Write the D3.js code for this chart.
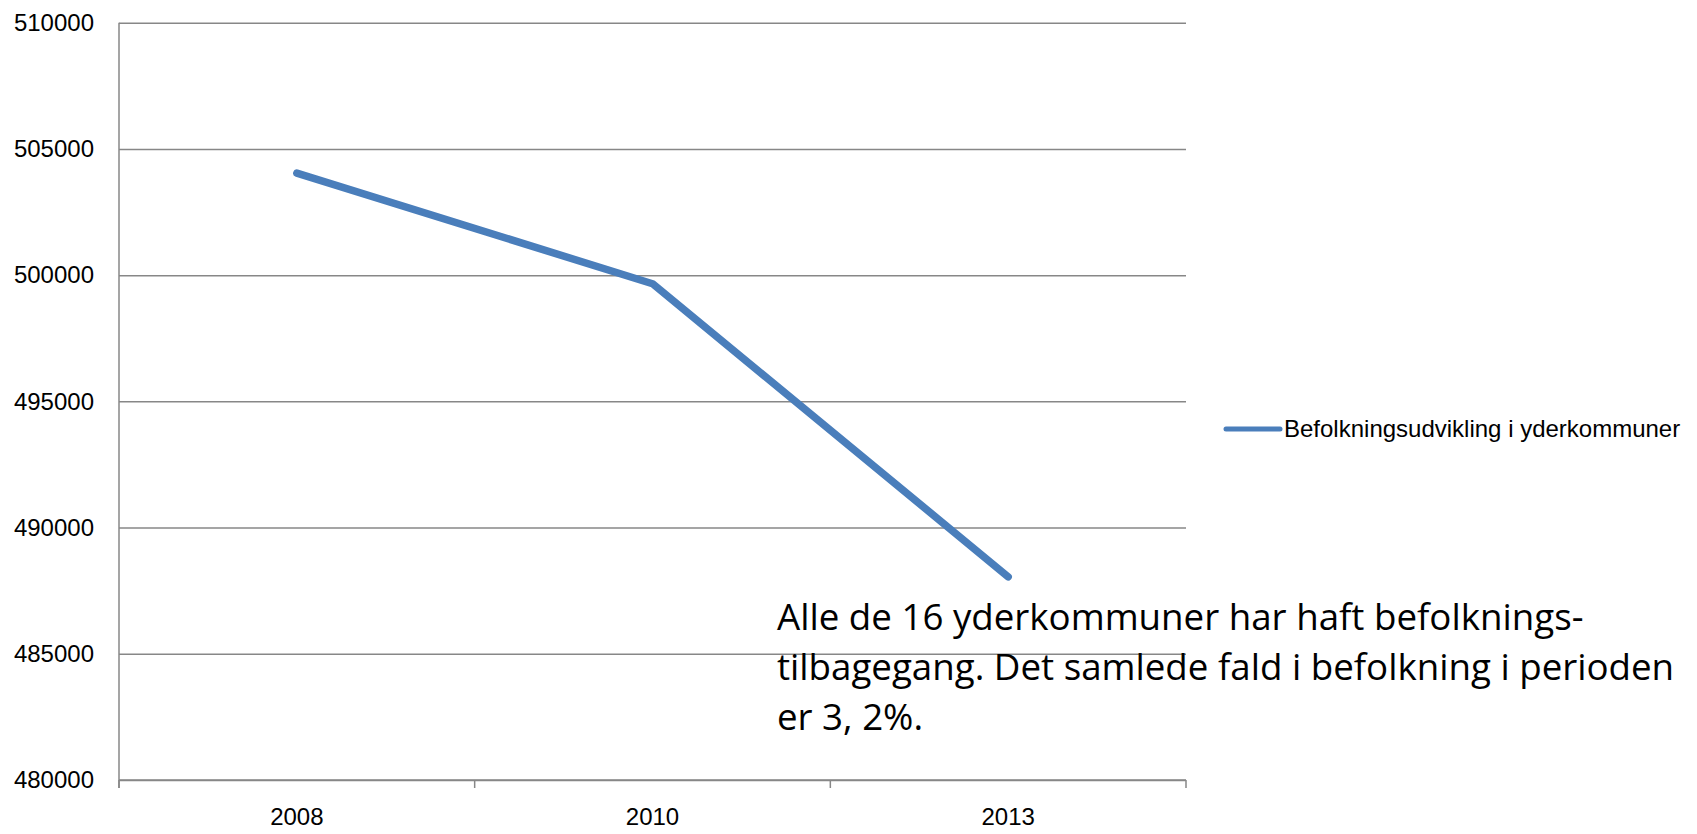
<!DOCTYPE html>
<html>
<head>
<meta charset="utf-8">
<script src="https://cdn.jsdelivr.net/npm/d3@7"></script>
<style>
  body { margin: 0; background: #fff; }
  svg { display: block; }
  .tick text { font-family: "Liberation Sans", Arial, sans-serif; font-size: 24px; fill: #000; }
</style>
</head>
<body>
<svg id="main-svg" width="1697" height="834"></svg>
<script>
// data
var years = ["2008", "2010", "2013"];
var population = [504040, 499660, 488050];
var yTicks = [480000, 485000, 490000, 495000, 500000, 505000, 510000];
var seriesName = "Befolkningsudvikling i yderkommuner";
var noteLines = [
  "Alle de 16 yderkommuner har haft befolknings-",
  "tilbagegang. Det samlede fald i befolkning i perioden",
  "er 3, 2%."
];

var svg = d3.select("#main-svg");
var gridColor = "#878787";
var lineColor = "#4a7ebb";

var plotLeft = 119, plotRight = 1186, plotTop = 22.7, plotBottom = 780;

var x = d3.scaleBand().domain(years).range([plotLeft, plotRight]).padding(0);
var y = d3.scaleLinear().domain([480000, 510000]).range([plotBottom, plotTop]);

// horizontal gridlines + y axis ticks
var yAxis = svg.append("g")
    .attr("transform", "translate(" + plotLeft + ",0)")
    .call(d3.axisLeft(y).tickValues(yTicks).tickSize(9).tickPadding(16).tickFormat(d3.format("d")));
yAxis.select(".domain").remove();
yAxis.selectAll(".tick line").attr("stroke", gridColor).attr("stroke-width", 1.5).attr("x2", plotRight - plotLeft);

// vertical axis line
svg.append("line")
    .attr("x1", plotLeft).attr("x2", plotLeft)
    .attr("y1", plotTop).attr("y2", plotBottom + 8)
    .attr("stroke", gridColor).attr("stroke-width", 1.5);

// x axis, ticks at category boundaries
var xAxis = svg.append("g")
    .attr("transform", "translate(0," + plotBottom + ")")
    .call(d3.axisBottom(x).tickSize(0).tickPadding(28));
xAxis.select(".domain").remove();
xAxis.selectAll(".tick line").remove();
var bounds = years.map(function(d){ return x(d); }).concat([plotRight]);
svg.append("g").selectAll("line").data(bounds).enter().append("line")
    .attr("x1", function(d){ return d; }).attr("x2", function(d){ return d; })
    .attr("y1", plotBottom).attr("y2", plotBottom + 8)
    .attr("stroke", gridColor).attr("stroke-width", 1.5);
svg.append("line")
    .attr("x1", plotLeft).attr("x2", plotRight)
    .attr("y1", plotBottom).attr("y2", plotBottom)
    .attr("stroke", gridColor).attr("stroke-width", 1.5);

// the series line
var line = d3.line()
    .x(function(d, i){ return x(years[i]) + x.bandwidth() / 2; })
    .y(function(d){ return y(d); });

svg.append("path")
    .datum(population)
    .attr("d", line)
    .attr("fill", "none")
    .attr("stroke", lineColor)
    .attr("stroke-width", 7.5)
    .attr("stroke-linecap", "round")
    .attr("stroke-linejoin", "round");

// legend
var legend = svg.append("g").attr("transform", "translate(1226,429)");
legend.append("line")
    .attr("x1", 0).attr("x2", 54)
    .attr("stroke", lineColor).attr("stroke-width", 5).attr("stroke-linecap", "round");
legend.append("text")
    .attr("x", 58).attr("y", 8)
    .style("font-family", "'Liberation Sans', Arial, sans-serif")
    .style("font-size", "24px")
    .text(seriesName);

// annotation
var note = svg.append("text")
    .style("font-family", "'Open Sans', sans-serif")
    .style("font-size", "36.7px")
    .attr("fill", "#000");
note.selectAll("tspan").data(noteLines).enter().append("tspan")
    .attr("x", 777)
    .attr("y", function(d, i){ return 630 + i * 50; })
    .text(function(d){ return d; });
</script>
</body>
</html>
